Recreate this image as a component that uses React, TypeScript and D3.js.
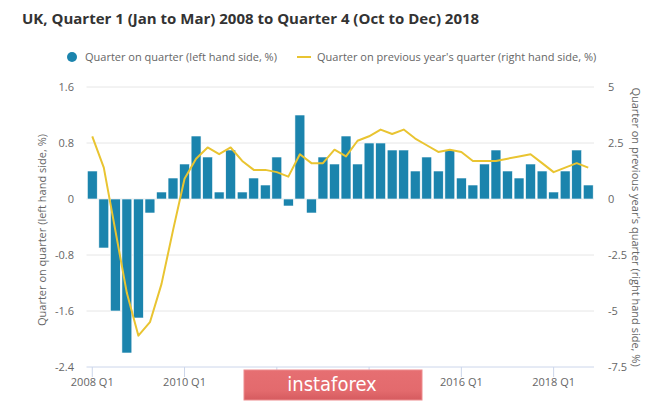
import React from 'react';
import * as d3 from 'd3';

// Quarters, 2008 Q1 .. 2018 Q4
const quarters: string[] = [];
for (let y = 2008; y <= 2018; y++) for (let q = 1; q <= 4; q++) quarters.push(`${y} Q${q}`);

// Quarter on quarter growth, % (left axis)
const qoq = [
  0.4, -0.7, -1.6, -2.2, -1.7, -0.2, 0.1, 0.3, 0.5, 0.9, 0.6, 0.1,
  0.7, 0.1, 0.3, 0.2, 0.6, -0.1, 1.2, -0.2, 0.6, 0.5, 0.9, 0.5,
  0.8, 0.8, 0.7, 0.7, 0.4, 0.6, 0.4, 0.7, 0.3, 0.2, 0.5, 0.7,
  0.4, 0.3, 0.5, 0.4, 0.1, 0.4, 0.7, 0.2,
];

// Quarter on previous year's quarter, % (right axis)
const yoy = [
  2.8, 1.4, -1.4, -4.2, -6.1, -5.5, -3.8, -1.4, 0.9, 1.8, 2.3, 2.0,
  2.3, 1.7, 1.3, 1.3, 1.2, 1.0, 2.0, 1.6, 1.6, 2.2, 1.9, 2.6,
  2.8, 3.1, 2.9, 3.1, 2.7, 2.4, 2.1, 2.2, 2.1, 1.7, 1.7, 1.7,
  1.8, 1.9, 2.0, 1.6, 1.2, 1.4, 1.6, 1.4,
];

const leftTicks = [-2.4, -1.6, -0.8, 0, 0.8, 1.6];
const rightTicks = [-7.5, -5, -2.5, 0, 2.5, 5];
const xTickLabels = ['2008 Q1', '2010 Q1', '2012 Q1', '2014 Q1', '2016 Q1', '2018 Q1'];
// labels sitting under the watermark are not visible in the original
const hiddenLabels = ['2012 Q1', '2014 Q1'];

const W = 665;
const H = 401;
const font = '"Open Sans", "Noto Sans", sans-serif';
const barColor = '#1b84ad';
const lineColor = '#e9c431';

const App: React.FC = () => {
  const x = d3.scaleBand<string>().domain(quarters).range([86.5, 594]).paddingInner(0.14).paddingOuter(0.07);
  const yL = d3.scaleLinear().domain([-2.4, 1.6]).range([367, 87]);
  const yR = d3.scaleLinear().domain([-7.5, 5]).range([367, 87]);
  const cx = (q: string) => (x(q) ?? 0) + x.bandwidth() / 2;

  const line = d3
    .line<number>()
    .x((_, i) => cx(quarters[i]))
    .y((d) => yR(d));

  return (
    <svg width={W} height={H} style={{ position: 'absolute', left: 0, top: 0, fontFamily: font }}>
      <rect width={W} height={H} fill="#fff" />
      <defs>
        <linearGradient id="wm" x1="0" y1="0" x2="0" y2="1">
          <stop offset="0" stopColor="#e66f72" />
          <stop offset="0.7" stopColor="#e36a6d" />
          <stop offset="1" stopColor="#d55b5f" />
        </linearGradient>
      </defs>

      <text x={22} y={24} fontSize={15} fontWeight={700} fill="#333">
        UK, Quarter 1 (Jan to Mar) 2008 to Quarter 4 (Oct to Dec) 2018
      </text>

      {/* legend */}
      <circle cx={72} cy={57} r={5} fill={barColor} />
      <text x={85} y={61} fontSize={11} fill="#666">Quarter on quarter (left hand side, %)</text>
      <line x1={297} x2={311} y1={57} y2={57} stroke={lineColor} strokeWidth={2} />
      <text x={317} y={61} fontSize={11} fill="#666">Quarter on previous year's quarter (right hand side, %)</text>

      {/* grid */}
      {leftTicks.map((t) => (
        <line key={t} x1={86.5} x2={594} y1={yL(t)} y2={yL(t)} stroke={t === -2.4 ? '#ccd6eb' : '#e6e6e6'} strokeWidth={1} />
      ))}
      {leftTicks.map((t) => (
        <text key={t} x={74} y={yL(t) + 4} fontSize={11} fill="#666" textAnchor="end">{t}</text>
      ))}
      {rightTicks.map((t) => (
        <text key={t} x={608} y={yR(t) + 4} fontSize={11} fill="#666">{t}</text>
      ))}

      {/* x axis ticks */}
      {xTickLabels.map((l) => (
        <g key={l}>
          <line x1={cx(l)} x2={cx(l)} y1={367} y2={377} stroke="#ccd6eb" />
          {!hiddenLabels.includes(l) && (
            <text x={cx(l)} y={386} fontSize={11} fill="#666" textAnchor="middle">{l}</text>
          )}
        </g>
      ))}

      {/* axis titles */}
      <text transform="translate(46,230) rotate(-90)" fontSize={11} fill="#666" textAnchor="middle">
        Quarter on quarter (left hand side, %)
      </text>
      <text transform="translate(632,227) rotate(90)" fontSize={11} fill="#666" textAnchor="middle">
        Quarter on previous year's quarter (right hand side, %)
      </text>

      {/* bars */}
      {qoq.map((v, i) => (
        <rect
          key={quarters[i]}
          x={x(quarters[i])}
          y={Math.min(yL(v), yL(0))}
          width={x.bandwidth()}
          height={Math.abs(yL(v) - yL(0))}
          fill={barColor}
          stroke="#fff"
          strokeWidth={0.6}
        />
      ))}

      <path d={line(yoy) ?? ''} fill="none" stroke={lineColor} strokeWidth={2} strokeLinejoin="round" />

      {/* watermark */}
      <rect x={244} y={370} width={178} height={30} fill="url(#wm)" stroke="#ee8c8e" strokeWidth={1} />
      <text x={332} y={391} fontSize={20} fill="#fff" textAnchor="middle" fontFamily='"Liberation Sans Narrow", "DejaVu Sans Condensed", sans-serif'>
        instaforex
      </text>
    </svg>
  );
};

export default App;
